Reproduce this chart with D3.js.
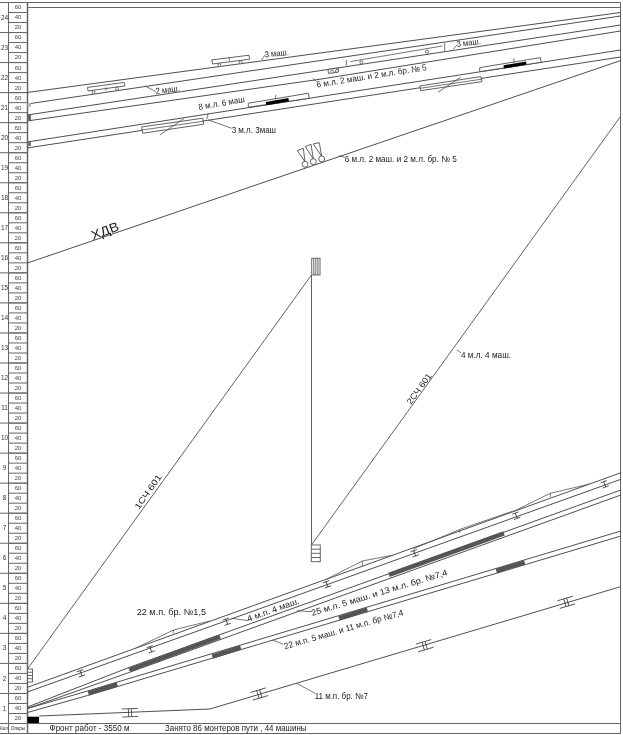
<!DOCTYPE html>
<html>
<head>
<meta charset="utf-8">
<script src="https://cdn.jsdelivr.net/npm/d3@7"></script>
<style>
    body { margin: 0; background: #fff; }
    text { font-family: "Liberation Sans", Arial, sans-serif; fill: #222; }
</style>
</head>
<body>
<svg id="chart"></svg>
<script>
// Axis rows
const kmLabels = d3.range(1, 25);
const picketLabels = [20, 40, 60];
const footerLeft = ["Кол", "Опоры"];
const footerFront = "Фронт работ  - 3550 м";
const footerBusy = "Занято 86 монтеров пути , 44 машины";

// All marks are [minutes, km]
const trackTop1 = [[0, 20.989], [593.5, 23.652]];
const trackTop2 = [[0, 20.606], [593.5, 23.536]];
const trackTop3 = [[0, 20.24], [292.5, 21.715], [593.5, 23.236]];
const trackTop4 = [[0, 20.041], [292.5, 21.429], [593.5, 23.037]];
const trackMid1 = [[0, 19.341], [593.5, 22.404]];
const trackMid2 = [[0, 19.142], [593.5, 22.171]];
const trackXdv = [[0, 15.313], [593.5, 22.055]];
const trainOut = [[0, 1.798], [284, 14.914]];
const trainStay = [[284, 14.914], [284, 5.926]];
const trainBack = [[284, 5.926], [593, 20.19]];
const trackA1 = [[0, 1.188], [593.5, 8.333]];
const trackA2 = [[0, 1.032], [593.5, 8.113]];
const trackB1 = [[0, 0.533], [101.5, 1.848], [593.5, 7.757]];
const trackB2 = [[0, 0.483], [101.5, 1.681], [593.5, 7.59]];
const trackC1 = [[0, 0.483], [60, 1.065], [593.5, 6.392]];
const trackC2 = [[0, 0.35], [60, 0.915], [593.5, 6.225]];
const trackD = [[11.8, 0.233], [182.5, 0.466], [593, 4.537]];
const bumps = [
    [[107.5, 2.48], [146, 3.096], [182.5, 3.396]],
    [[298.8, 4.784], [334.8, 5.393], [365.5, 5.586]],
    [[385.5, 5.792], [432.2, 6.442], [485.5, 7.057]],
    [[485.5, 7.034], [522.8, 7.647], [562.2, 7.956]],
];

// Work zones drawn as thick bars
const grayBars = [
    [[101.8, 1.764], [192.5, 2.873]],
    [[361.5, 4.927], [476.5, 6.315]],
    [[60.8, 0.989], [89.8, 1.282]],
    [[184.8, 2.207], [213.2, 2.52]],
    [[311.5, 3.485], [339.8, 3.785]],
    [[468.8, 5.06], [497.2, 5.35]],
];
const blackBars = [
    [[238.5, 20.617], [261.2, 20.75]],
    [[476.2, 21.838], [498.8, 21.971]],
];

const machines = [
    [[60, 21.156], [96.5, 21.322], [97.5, 21.206], [60.5, 21.039]],
    [[184.2, 22.071], [221.5, 22.228], [222.2, 22.095], [185.2, 21.938]],
    [[220.8, 20.63], [280.8, 20.963], [281.8, 20.796], [220.8, 20.497]],
    [[114.2, 19.841], [175.2, 20.131], [176.2, 19.931], [115.2, 19.631]],
    [[392.2, 21.206], [453.2, 21.515], [454.5, 21.349], [393.2, 21.049]],
    [[452.2, 21.815], [512.8, 22.148], [513.8, 21.994], [452.2, 21.682]],
    [[300.5, 21.755], [310.5, 21.805], [311, 21.672], [301, 21.622]],
];
const thinLines = [
    [[114.8, 19.741], [175.8, 20.031]],
    [[392.8, 21.129], [453.8, 21.429]],
    [[132.5, 19.575], [156.8, 20.131]],
    [[410.5, 20.996], [433.2, 21.495]],
    [[322.8, 22.015], [415, 22.537]],
    // ticks
    [[248.2, 20.906], [248.2, 20.763]],
    [[486.5, 22.128], [486.5, 21.962]],
    [[318.8, 22.071], [318.8, 21.882]],
    [[417.2, 22.627], [417.2, 22.371]],
    [[78.5, 21.162], [78.5, 21.05]],
    [[201.8, 22.138], [201.8, 22.038]],
    [[145.8, 3.096], [145.8, 2.979]],
    [[334.8, 5.393], [334.8, 5.227]],
    [[432.2, 6.442], [432.2, 6.335]],
    [[522.8, 7.647], [522.8, 7.524]],
    // leaders
    [[117.5, 21.206], [128.5, 21.016]],
    [[234.2, 22.071], [237.5, 22.238]],
    [[180.8, 20.074], [204.2, 19.798]],
    [[285.2, 21.462], [289.2, 21.349]],
    [[311.5, 18.885], [317.2, 18.832]],
    [[425.5, 22.427], [429.5, 22.571]],
    [[180.8, 20.297], [179.2, 20.097]],
    [[429.5, 12.417], [433.5, 12.317]],
    [[204.2, 3.485], [220.8, 3.406]],
    [[269.2, 3.738], [284.2, 3.705]],
    [[245.2, 2.763], [255.8, 2.62]],
    [[269.2, 1.322], [287.5, 0.989]],
];
const wheels = [
    [66, 20.996], [89.5, 21.116], [191.8, 21.895], [213.2, 21.994],
    [333.8, 21.994], [399.5, 22.348], [304.8, 21.682], [309.5, 21.705],
];
const signalLamps = [[277.5, 18.599], [285.8, 18.686], [294.2, 18.776]];
const signalCones = [
    [[277.5, 18.686], [269.8, 19.052], [275.8, 19.132]],
    [[285.8, 18.776], [277.8, 19.185], [283.5, 19.265]],
    [[294.2, 18.859], [285.8, 19.275], [291.8, 19.318]],
];
const joints = [
    [53.5, 1.655], [123.2, 2.453], [199.2, 3.372], [299.5, 4.617],
    [387.2, 5.649], [488.8, 6.901], [577.2, 7.946],
];
const crossings = [[102.5, 0.343], [231.8, 0.965], [397.2, 2.573], [538.8, 4.018]];

// Stations: [t0, t1, km0, km1, cells, direction]
const stations = [
    [284.2, 292.5, 14.914, 15.47, 4, "v"],
    [283.8, 292.8, 5.37, 5.926, 4, "h"],
    [0, 5, 1.365, 1.798, 4, "h"],
];
// Start blocks: [t0, t1, km0, km1]
const startBlocks = [
    [0, 11.5, 0, 0.21, "#000"],
    [0, 3.5, 20.507, 20.64, "#bbb"],
    [0, 3.5, 20.074, 20.24, "#666"],
    [0, 3.5, 19.208, 19.341, "#777"],
];

// Labels: text, start, end
const labels = [
    ["3 маш.", [237.5, 22.154], [261.5, 22.238]],
    ["2 маш.", [128.5, 20.94], [152.5, 21.039]],
    ["8 м.л. 6 маш", [171.5, 20.407], [217.5, 20.674]],
    ["3 м.л. 3маш", [204.2, 19.641], [248.5, 19.641]],
    ["6 м.л. 2 маш. и 2 м.л. бр. № 5", [289.5, 21.156], [399.5, 21.738]],
    ["3 маш.", [429.5, 22.504], [453.5, 22.604]],
    ["6 м.л. 2 маш. и 2 м.л. бр. № 5", [317.2, 18.676], [429.2, 18.676]],
    ["1СЧ 601", [111.5, 7.091], [134.5, 8.189]],
    ["2СЧ 601", [383.5, 10.586], [404.5, 11.552]],
    ["4 м.л. 4 маш.", [433.5, 12.151], [483.5, 12.151]],
    ["22 м.п. бр. №1,5", [109.2, 3.605], [178.5, 3.605]],
    ["4 м.п. 4 маш.", [220.8, 3.372], [272.5, 3.985]],
    ["25 м.л. 5 маш. и 13 м.л. бр. №7,4", [284.8, 3.562], [420.5, 4.927]],
    ["22 м.п. 5 маш. и 11 м.п. бр №7,4", [257.5, 2.453], [376.5, 3.595]],
    ["11 м.п. бр. №7", [287.2, 0.809], [340.5, 0.809]],
];
const bigLabels = [["ХДВ", [65.5, 16.079], [92.5, 16.412]]];

const width = 623;
const height = 735;
const left = 27.5;
const right = 620.5;
const bottom = 723;
const top_ = 2;
const footer = 733;
const inkColor = "#3a3a3a";

const x = d3.scaleLinear().domain([0, 593]).range([left, right]);
const y = d3.scaleLinear().domain([0, 24]).range([bottom, top_]);
const line = d3.line().x((d) => x(d[0])).y((d) => y(d[1]));

// The reference is a soft scan, so take the edge off everything
const svg = d3.select("#chart").attr("width", width).attr("height", height)
    .style("display", "block")
    .style("filter", "blur(0.3px)");

/**
 * Left ruler: km and picket columns with the row rules
 */
function drawRuler() {
    const rowTicks = d3.range(0, 72).map((i) => i / 3);
    const rows = svg.append("g")
        .attr("transform", `translate(${left},0)`)
        .call(d3.axisLeft(y).tickValues(rowTicks).tickSize(19).tickFormat(""));
    rows.select(".domain").remove();
    rows.selectAll("line").attr("stroke", "#666");

    const kmRules = svg.append("g")
        .attr("transform", `translate(${left},0)`)
        .call(d3.axisLeft(y).tickValues(d3.range(0, 25)).tickSize(left).tickFormat(""));
    kmRules.select(".domain").remove();
    kmRules.selectAll("line").attr("stroke", "#666");

    const picketTicks = kmLabels.flatMap((km) => picketLabels.map((p) => km - 1 + (p - 10) / 60));
    const picketAxis = svg.append("g")
        .attr("transform", "translate(24,0)")
        .call(d3.axisLeft(y).tickValues(picketTicks).tickSize(0).tickPadding(0)
            .tickFormat((d) => picketLabels[Math.round((d % 1) * 3 - 0.5 + 3) % 3]));
    picketAxis.select(".domain").remove();
    picketAxis.selectAll("text").attr("font-size", 6).attr("x", -6).attr("text-anchor", "middle").style("fill", "#444");

    const kmAxis = svg.append("g")
        .attr("transform", "translate(4.5,0)")
        .call(d3.axisLeft(y).tickValues(kmLabels.map((k) => k - 0.5)).tickSize(0).tickPadding(0)
            .tickFormat((d) => d + 0.5));
    kmAxis.select(".domain").remove();
    kmAxis.selectAll("text").attr("font-size", 6.5).attr("x", 0).attr("text-anchor", "middle").style("fill", "#333");

    const frame = svg.append("g").attr("fill", "none").attr("stroke", "#666");
    frame.append("path").attr("d", `M0,${top_ + 0.5}H${right}V${bottom}`);
    frame.append("path").attr("d", `M0,${bottom + 0.5}H${right}M0,${footer + 0.5}H${right}V${bottom}`);
    frame.append("path").attr("d", `M${left},${top_}V${footer}`).attr("stroke-width", 1.5);
    frame.append("path").attr("d", `M8.5,${top_}V${footer}`);
    frame.append("path").attr("d", `M${left},7.5H${right}`);
}

function drawFooter() {
    const g = svg.append("g");
    g.append("text").attr("x", 4).attr("y", 730).attr("font-size", 4.5).attr("text-anchor", "middle").text(footerLeft[0]);
    g.append("text").attr("x", 18).attr("y", 730).attr("font-size", 4.5).attr("text-anchor", "middle").text(footerLeft[1]);
    g.append("text").attr("x", 49.5).attr("y", 731).attr("font-size", 8.6).attr("textLength", 80).attr("lengthAdjust", "spacingAndGlyphs").text(footerFront);
    g.append("text").attr("x", 165).attr("y", 731).attr("font-size", 8.6).attr("textLength", 141.5).attr("lengthAdjust", "spacingAndGlyphs").text(footerBusy);
}

function drawLines(list, stroke, strokeWidth) {
    svg.append("g")
        .attr("fill", "none")
        .attr("stroke", stroke)
        .attr("stroke-width", strokeWidth)
        .selectAll("path")
        .data(list)
        .enter()
        .append("path")
        .attr("d", line);
}

// Slope of a track at a given time, in screen degrees
function angleOn(track, t) {
    let i = d3.bisectLeft(track.map((d) => d[0]), t);
    i = Math.max(1, Math.min(track.length - 1, i));
    const a = track[i - 1];
    const b = track[i];
    return (Math.atan2(y(b[1]) - y(a[1]), x(b[0]) - x(a[0])) * 180) / Math.PI;
}

function drawStations() {
    const g = svg.append("g").attr("fill", "#fff").attr("stroke", "#666");
    stations.forEach(([t0, t1, k0, k1, cells, dir]) => {
        const box = g.append("g");
        box.append("rect")
            .attr("x", x(t0))
            .attr("y", y(k1))
            .attr("width", x(t1) - x(t0))
            .attr("height", y(k0) - y(k1));
        d3.range(1, cells).forEach((i) => {
            const l = box.append("line");
            if (dir === "v") {
                const px = x(t0 + ((t1 - t0) * i) / cells);
                l.attr("x1", px).attr("x2", px).attr("y1", y(k1)).attr("y2", y(k0));
            } else {
                const py = y(k0 + ((k1 - k0) * i) / cells);
                l.attr("x1", x(t0)).attr("x2", x(t1)).attr("y1", py).attr("y2", py);
            }
        });
    });
}

function drawJoints() {
    const g = svg.append("g").attr("fill", "none").attr("stroke", inkColor).attr("stroke-width", 0.8);
    g.selectAll("path.joint").data(joints).enter().append("path")
        .attr("class", "joint")
        .attr("transform", (d) => `translate(${x(d[0])},${y(d[1])}) rotate(${angleOn(trackA1, d[0])})`)
        .attr("d", "M-3.3,-2.8H3.3M-3.3,2.8H3.3M0,-2.8V2.8");
    g.selectAll("path.crossing").data(crossings).enter().append("path")
        .attr("class", "crossing")
        .attr("transform", (d) => `translate(${x(d[0])},${y(d[1])}) rotate(${angleOn(trackD, d[0])})`)
        .attr("d", "M-8,-4H8M-8,4H8M-1.5,-4V4M1.5,-4V4");
}

// Each label runs from its start to its end point, the width comes from those
function drawLabels(list, size) {
    svg.append("g")
        .selectAll("text")
        .data(list)
        .enter()
        .append("text")
        .attr("font-size", size)
        .attr("lengthAdjust", "spacingAndGlyphs")
        .attr("textLength", (d) => Math.hypot(x(d[2][0]) - x(d[1][0]), y(d[2][1]) - y(d[1][1])))
        .attr("transform", (d) => {
            const start = d[1];
            const end = d[2];
            const angle = (Math.atan2(y(end[1]) - y(start[1]), x(end[0]) - x(start[0])) * 180) / Math.PI;
            return `translate(${x(start[0])},${y(start[1])}) rotate(${angle})`;
        })
        .text((d) => d[0]);
}

drawRuler();
drawLines([trackTop1, trackTop2, trackTop3, trackTop4, trackMid1, trackMid2, trackXdv], inkColor, 0.9);
drawLines([trainOut, trainStay, trainBack], inkColor, 0.8);
drawLines([trackA1, trackA2, trackB1, trackB2, trackC1, trackC2, trackD], inkColor, 0.9);
drawLines(bumps, "#555", 0.8);
drawLines(grayBars, "#555", 4.5);

svg.append("g").attr("fill", "#fff").attr("stroke", inkColor).attr("stroke-width", 0.8)
    .selectAll("path").data(machines).enter().append("path")
    .attr("d", (d) => line(d) + "Z");
drawLines(blackBars, "#000", 3.2);
drawLines(thinLines, inkColor, 0.7);

svg.append("g").attr("fill", "#fff").attr("stroke", inkColor).attr("stroke-width", 0.7)
    .selectAll("circle").data(wheels).enter().append("circle")
    .attr("cx", (d) => x(d[0])).attr("cy", (d) => y(d[1])).attr("r", 1.5);

svg.append("g").attr("fill", "none").attr("stroke", inkColor).attr("stroke-width", 0.8)
    .selectAll("path").data(signalCones).enter().append("path")
    .attr("d", (d) => line(d) + "Z");
svg.append("g").attr("fill", "#fff").attr("stroke", inkColor).attr("stroke-width", 0.8)
    .selectAll("circle").data(signalLamps).enter().append("circle")
    .attr("cx", (d) => x(d[0])).attr("cy", (d) => y(d[1])).attr("r", 3);

drawStations();
drawJoints();

svg.append("g").selectAll("rect").data(startBlocks).enter().append("rect")
    .attr("x", (d) => x(d[0]))
    .attr("y", (d) => y(d[3]))
    .attr("width", (d) => x(d[1]) - x(d[0]))
    .attr("height", (d) => y(d[2]) - y(d[3]))
    .attr("fill", (d) => d[4]);

drawLabels(labels, 8.6);
drawLabels(bigLabels, 13);
drawFooter();
</script>
</body>
</html>
